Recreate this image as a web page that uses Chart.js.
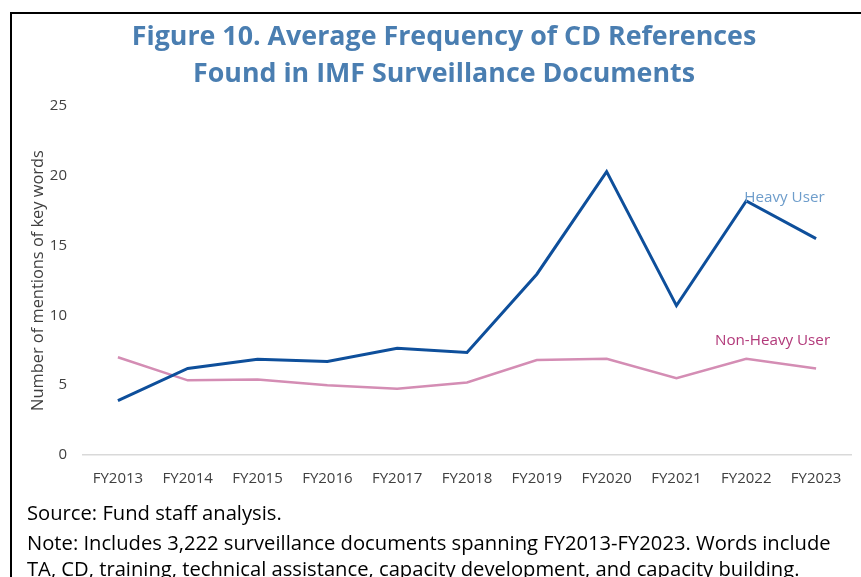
<!DOCTYPE html>
<html>
<head>
<meta charset="utf-8">
<script src="https://cdn.jsdelivr.net/npm/chart.js@4"></script>
<style>
  html, body { margin: 0; padding: 0; background: #fff; width: 861px; height: 577px; overflow: hidden; }
  #frame { position: absolute; left: 10px; top: 12px; width: 900px; height: 700px; border-left: 2px solid #000; border-top: 2px solid #000; }
  #wrap { position: absolute; left: 0; top: 0; width: 861px; height: 577px; }
  #title { position: absolute; left: 0; width: 888px; top: 16px; text-align: center; font-family: "Open Sans", sans-serif; font-weight: 700; font-size: 26.8px; line-height: 37px; color: #4A7EB1; }
  .note { position: absolute; left: 27px; font-family: "Open Sans", sans-serif; font-size: 20.2px; line-height: 27px; color: #000; white-space: nowrap; }
</style>
</head>
<body>
<div id="frame"></div>
<div id="wrap"><canvas id="c" width="861" height="577"></canvas></div>
<div id="title">Figure 10. Average Frequency of CD References<br>Found in IMF Surveillance Documents</div>
<div class="note" style="top:499px">Source: Fund staff analysis.</div>
<div class="note" style="top:529px">Note: Includes 3,222 surveillance documents spanning FY2013-FY2023. Words include</div>
<div class="note" style="top:555px">TA, CD, training, technical assistance, capacity development, and capacity building.</div>
<script>
const categories = ["FY2013","FY2014","FY2015","FY2016","FY2017","FY2018","FY2019","FY2020","FY2021","FY2022","FY2023"];
const heavyUser = [3.9, 6.2, 6.85, 6.7, 7.65, 7.35, 12.95, 20.3, 10.7, 18.2, 15.5];
const nonHeavyUser = [7.0, 5.35, 5.4, 5.0, 4.75, 5.2, 6.8, 6.9, 5.5, 6.9, 6.2];
const yTicks = [0, 5, 10, 15, 20, 25];

const seriesLabels = {
  id: 'seriesLabels',
  afterDatasetsDraw(chart) {
    const {ctx, scales: {x, y}} = chart;
    ctx.save();
    ctx.font = '15.2px "Open Sans", sans-serif';
    ctx.textBaseline = 'middle';
    ctx.fillStyle = '#6E9DCB';
    ctx.textAlign = 'left';
    ctx.fillText('Heavy User', x.getPixelForValue(9) - 2, y.getPixelForValue(18.4));
    ctx.fillStyle = '#B2397A';
    ctx.textAlign = 'right';
    ctx.fillText('Non-Heavy User', x.getPixelForValue(10) + 14, y.getPixelForValue(8.2));
    ctx.restore();
  }
};

new Chart(document.getElementById('c'), {
  type: 'line',
  data: {
    labels: categories,
    datasets: [
      { label: 'Heavy User', data: heavyUser, borderColor: '#0E4F9B', borderWidth: 3, pointRadius: 0, tension: 0, fill: false },
      { label: 'Non-Heavy User', data: nonHeavyUser, borderColor: '#D48DB4', borderWidth: 2.5, pointRadius: 0, tension: 0, fill: false }
    ]
  },
  options: {
    responsive: false,
    animation: false,
    events: [],
    layout: { padding: { top: 106, left: 0, right: 10, bottom: 82 } },
    plugins: { legend: { display: false }, tooltip: { enabled: false }, title: { display: false } },
    scales: {
      x: {
        offset: true,
        grid: { display: false, drawTicks: false },
        border: { display: true, color: '#D9D9D9', width: 1.5 },
        ticks: { color: '#404040', font: { family: '"Open Sans", sans-serif', size: 15 }, padding: 15, maxRotation: 0, autoSkip: false },
        afterFit(s) { s.height = 40; }
      },
      y: {
        min: 0, max: 25,
        afterBuildTicks(s) { s.ticks = yTicks.map(v => ({ value: v })); },
        grid: { display: false, drawTicks: false },
        border: { display: false },
        ticks: { color: '#404040', font: { family: '"Open Sans", sans-serif', size: 15 }, padding: 16 },
        title: { display: true, text: 'Number of mentions of key words', color: '#404040', font: { family: '"Open Sans", sans-serif', size: 16.4 }, padding: { top: 28, bottom: 0 } },
        afterFit(s) { s.width = 83; }
      }
    }
  },
  plugins: [seriesLabels]
});
</script>
</body>
</html>
